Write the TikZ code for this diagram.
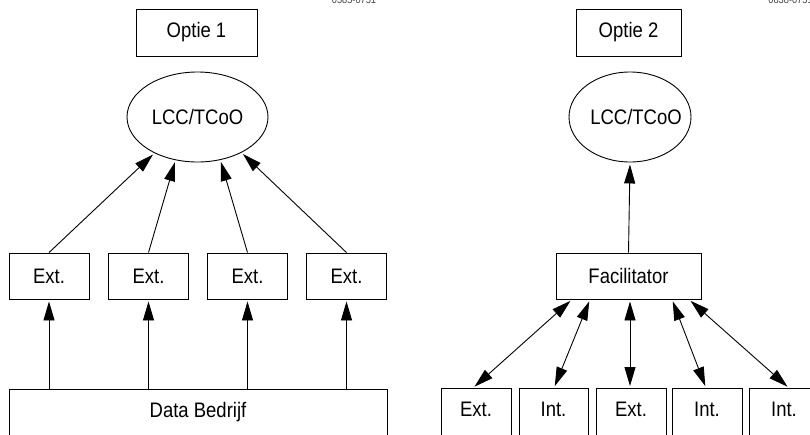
\documentclass[tikz,border=0pt]{standalone}
\usepackage{fontspec}
\setmainfont{Liberation Sans}[FakeStretch=0.88]
\usetikzlibrary{shapes.geometric,arrows.meta}
\begin{document}
\begin{tikzpicture}[x=1pt,y=-1pt,line width=0.9pt,
  txt/.style={font=\fontsize{21}{24}\selectfont},
  box/.style={draw,rectangle,inner sep=0pt,txt},
  openbox/.style={box,anchor=north,minimum height=60pt,text height=21pt,text depth=25pt},
  oval/.style={draw,ellipse,inner sep=0pt,minimum height=90pt},
  code/.style={anchor=base,inner sep=0pt,text=black!75,font=\fontsize{10.5}{12}\selectfont},
  tip/.tip={Triangle[length=19pt,width=11pt]},
  link/.style={-tip,shorten >=2pt},
  duplex/.style={tip-tip,shorten >=2pt,shorten <=2pt}]
\useasboundingbox (0,0) rectangle (810,434);

% figure codes along the top edge
\node[code] (codeA) at (354,3) {0585-0751};
\node[code,anchor=base west] (codeB) at (768,3) {0838-0751};

% ---- Option 1: each party delivers its own figures ----
\node[box,minimum width=121pt,minimum height=47pt] (opt1) at (196.5,32.5) {Optie 1};
\node[oval,minimum width=141pt] (lcc1) at (197.5,117) {};
\node[txt] (lcc1t) at (lcc1.center) {LCC/TCoO};

\foreach \i/\x in {1/49,2/148.5,3/247.5,4/346.5}
  \node[box,minimum width=80pt,minimum height=46pt] (ext\i) at (\x,276) {Ext.};

\node[openbox,minimum width=378pt] (data) at (198,389) {Data Bedrijf};

\draw[link] (ext1.north) -- (lcc1.-140.6);
\draw[link] (ext2.north) -- (lcc1.-117.6);
\draw[link] (ext3.north) -- (lcc1.-62.4);
\draw[link] (ext4.north) -- (lcc1.-39.4);

\foreach \i in {1,...,4}
  \draw[link] (data.north -| ext\i.south) -- (ext\i.south);

% ---- Option 2: a facilitator collects the figures ----
\node[box,minimum width=105pt,minimum height=47pt] (opt2) at (628.5,32.5) {Optie 2};
\node[oval,minimum width=122pt] (lcc2) at (630,117) {};
\node[txt] (lcc2t) at ([xshift=6pt]lcc2.center) {LCC/TCoO};

\node[box,minimum width=145pt,minimum height=46pt] (fac) at (628.5,276) {Facilitator};

\node[openbox,minimum width=70pt] (p1) at (476,388) {Ext.};
\node[openbox,minimum width=69pt] (p2) at (553.5,388) {Int.};
\node[openbox,minimum width=70pt] (p3) at (631,388) {Ext.};
\node[openbox,minimum width=70pt] (p4) at (707,388) {Int.};
\node[openbox,minimum width=70pt] (p5) at (784,388) {Int.};

\draw[link] (fac.north) -- (lcc2.south);

\draw[duplex] ([xshift=-56.5pt]fac.south) -- ([xshift=-3pt]p1.north);
\draw[duplex] ([xshift=-38.5pt]fac.south) -- ([xshift=0.5pt]p2.north);
\draw[duplex] ([xshift=1.5pt]fac.south) -- ([xshift=-1pt]p3.north);
\draw[duplex] ([xshift=43.5pt]fac.south) -- ([xshift=-1pt]p4.north);
\draw[duplex] ([xshift=60.5pt]fac.south) -- ([xshift=5pt]p5.north);
\end{tikzpicture}
\end{document}
